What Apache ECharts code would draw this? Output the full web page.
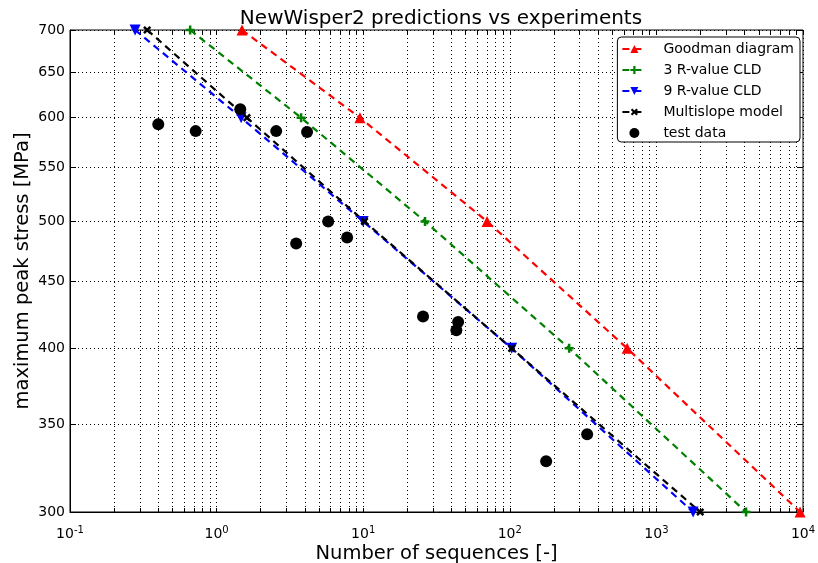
<!DOCTYPE html>
<html>
<head>
<meta charset="utf-8">
<script src="https://cdn.jsdelivr.net/npm/echarts@6/dist/echarts.min.js"></script>
<style>
  html, body { margin: 0; padding: 0; background: #fff; }
  #chart { width: 818px; height: 563px; }
</style>
</head>
<body>
<div id="chart"></div>
<script>
// stress levels where each prediction is marked
const stressLevels = [700, 600, 500, 400, 300];
// predicted number of sequences at those levels
const goodmanN = [1.49, 9.5, 70, 632, 9550];
const r3N = [0.66, 3.77, 26.4, 254, 4090];
const r9N = [0.278, 1.47, 10.0, 103, 1780];
const multiN = [0.336, 1.61, 10.2, 103, 1990];
// experiments
const testN = [0.40, 0.72, 1.45, 2.55, 4.14, 5.77, 3.49, 7.77, 25.6, 44.4, 43.2, 337, 177];
const testStress = [593, 586, 609, 586, 585, 500, 481, 486, 423, 419, 413, 344, 328];
// axis ticks
const xMajor = [0.1, 1, 10, 100, 1000, 10000];
const yLabels = [300, 350, 400, 450, 500, 550, 600, 650, 700];

const xGrid = [];
for (let d = -1; d < 4; d++) {
  for (let m = 1; m < 10; m++) xGrid.push(+(m * Math.pow(10, d)).toPrecision(3));
}
xGrid.push(10000);

const pair = (xs, ys) => xs.map((x, i) => [x, ys[i]]);
const plus = 'path://M3.6,0H6.4V3.6H10V6.4H6.4V10H3.6V6.4H0V3.6H3.6Z';

const chart = echarts.init(document.getElementById('chart'));
const font = 'DejaVu Sans';

const lineSeries = (name, xs, color, symbol, size, rotate) => ({
  name: name,
  type: 'line',
  data: pair(xs, stressLevels),
  symbol: symbol,
  symbolSize: size,
  symbolRotate: rotate || 0,
  itemStyle: { color: color },
  lineStyle: { color: color, width: 2.2, type: [7, 5] },
  z: 3
});

// unlabelled copies of the axes on the top and right edges (tick marks only)
const mirrorX = {
  type: 'log', logBase: 10, min: 0.1, max: 10000, position: 'top',
  axisLine: { show: false },
  axisTick: { inside: true, length: 4, customValues: xGrid, lineStyle: { color: '#000' } },
  axisLabel: { show: false },
  splitLine: { show: false }
};
const mirrorY = {
  type: 'log', logBase: 10, min: 300, max: 700, position: 'right',
  axisLine: { show: false },
  axisTick: { inside: true, length: 6, customValues: yLabels, lineStyle: { color: '#000' } },
  axisLabel: { show: false },
  splitLine: { show: false }
};

chart.setOption({
  animation: false,
  textStyle: { fontFamily: font },
  title: {
    text: 'NewWisper2 predictions vs experiments',
    left: 436, top: 4, textAlign: 'center',
    textStyle: { fontFamily: font, fontSize: 20, fontWeight: 'normal', color: '#000' }
  },
  grid: {
    left: 70, right: 15, top: 30, bottom: 51,
    outerBoundsMode: 'none',
    show: true, borderColor: '#000', borderWidth: 1
  },
  legend: {
    orient: 'vertical',
    right: 18, top: 37,
    backgroundColor: '#fff',
    borderColor: '#000', borderWidth: 1, borderRadius: 4,
    padding: [5, 6, 2, 4],
    itemGap: 7,
    itemWidth: 24, itemHeight: 10,
    textStyle: { fontFamily: font, fontSize: 14, color: '#000', padding: [0, 0, 0, 12] }
  },
  xAxis: [{
    type: 'log', logBase: 10, min: 0.1, max: 10000,
    name: 'Number of sequences [-]',
    nameLocation: 'middle', nameGap: 32, nameMoveOverlap: false,
    nameTextStyle: { fontFamily: font, fontSize: 19.5, color: '#000' },
    axisLine: { lineStyle: { color: '#000' } },
    axisTick: { inside: true, length: 4, customValues: xGrid, lineStyle: { color: '#000' } },
    axisLabel: {
      customValues: xMajor,
      color: '#000', fontSize: 14, margin: 13,
      formatter: v => '10{sup|' + Math.round(Math.log10(v)) + '}',
      rich: { sup: { fontSize: 10, padding: [0, 0, 9, 0], color: '#000' } }
    },
    splitLine: { show: true, lineStyle: { color: '#000', type: [1, 3], width: 1 } }
  }, mirrorX],
  yAxis: [{
    type: 'log', logBase: 10, min: 300, max: 700,
    name: 'maximum peak stress [MPa]',
    nameLocation: 'middle', nameGap: 37, nameMoveOverlap: false,
    nameTextStyle: { fontFamily: font, fontSize: 19.5, color: '#000' },
    axisLine: { lineStyle: { color: '#000' } },
    axisTick: { inside: true, length: 6, customValues: yLabels, lineStyle: { color: '#000' } },
    axisLabel: { customValues: yLabels, color: '#000', fontSize: 14, margin: 5 },
    splitLine: { show: true, lineStyle: { color: '#000', type: [1, 3], width: 1 } }
  }, mirrorY],
  series: [
    lineSeries('Goodman diagram', goodmanN, '#ff0000', 'triangle', 11),
    lineSeries('3 R-value CLD', r3N, '#008000', plus, 9),
    lineSeries('9 R-value CLD', r9N, '#0000ff', 'triangle', 11, 180),
    lineSeries('Multislope model', multiN, '#000000', plus, 9, 45),
    {
      name: 'test data',
      type: 'scatter',
      data: pair(testN, testStress),
      symbol: 'circle',
      symbolSize: 12,
      itemStyle: { color: '#000', opacity: 1 },
      z: 4
    }
  ]
});
</script>
</body>
</html>
